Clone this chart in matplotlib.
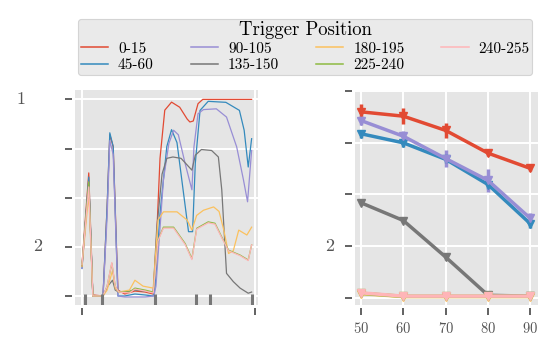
import matplotlib
matplotlib.use("Agg")
import matplotlib.pyplot as plt
import matplotlib.transforms as mtransforms

plt.style.use("ggplot")
plt.rcParams["font.family"] = ["cmr10", "DejaVu Serif"]
plt.rcParams["axes.formatter.use_mathtext"] = True

# series names and colours (ggplot cycle)
labels = ["0-15", "45-60", "90-105", "135-150", "180-195", "225-240", "240-255"]
colors = ["#E24A33", "#348ABD", "#988ED5", "#777777", "#FBC15E", "#8EBA42", "#FFB5B8"]

# left panel: profile over position 0..255
x_red = [0, 10, 16, 31, 37, 41, 46, 53, 63, 78, 93, 105, 110, 115, 122, 132, 144, 155, 159, 164, 171, 178, 250]
y_red = [0.157, 0.626, 0.005, 0.0, 0.45, 0.82, 0.76, 0.03, 0.01, 0.025, 0.02, 0.01, 0.3, 0.7, 0.945, 0.986, 0.96, 0.9, 0.885, 0.89, 0.978, 1.0, 1.0]

x_blue = [0, 10, 16, 31, 37, 41, 46, 53, 63, 78, 93, 105, 108, 115, 125, 132, 140, 149, 157, 163, 167, 174, 186, 212, 232, 239, 245, 250]
y_blue = [0.14, 0.605, 0.0, 0.0, 0.45, 0.83, 0.76, 0.0, 0.0, 0.01, 0.005, 0.0, 0.05, 0.42, 0.76, 0.846, 0.78, 0.54, 0.327, 0.327, 0.675, 0.944, 0.99, 0.985, 0.944, 0.843, 0.656, 0.8]

x_purple = [0, 10, 16, 31, 37, 41, 46, 53, 63, 93, 106, 109, 120, 128, 135, 142, 152, 162, 165, 171, 179, 198, 213, 228, 238, 244, 250]
y_purple = [0.14, 0.58, 0.0, 0.0, 0.4, 0.79, 0.72, 0.0, -0.005, -0.005, 0.0, 0.05, 0.59, 0.775, 0.843, 0.82, 0.674, 0.54, 0.758, 0.927, 0.948, 0.952, 0.91, 0.758, 0.59, 0.479, 0.74]

x_grey = [0, 10, 16, 31, 38, 45, 49, 54, 63, 78, 90, 105, 110, 118, 125, 134, 146, 162, 167, 176, 191, 201, 206, 213, 223, 233, 245, 250]
y_grey = [0.15, 0.58, 0.0, 0.0, 0.05, 0.08, 0.03, 0.02, 0.02, 0.03, 0.025, 0.02, 0.335, 0.62, 0.7, 0.707, 0.7, 0.64, 0.716, 0.745, 0.74, 0.707, 0.54, 0.115, 0.073, 0.04, 0.014, 0.02]

x_orange = [0, 10, 16, 31, 37, 45, 49, 54, 70, 78, 90, 105, 112, 120, 140, 155, 162, 169, 179, 194, 202, 209, 216, 223, 231, 243, 250]
y_orange = [0.15, 0.52, 0.0, 0.0, 0.03, 0.13, 0.04, 0.02, 0.03, 0.08, 0.05, 0.04, 0.386, 0.428, 0.428, 0.386, 0.335, 0.41, 0.436, 0.453, 0.43, 0.335, 0.216, 0.23, 0.335, 0.31, 0.35]

x_green = [0, 10, 16, 31, 37, 44, 49, 54, 70, 78, 93, 105, 112, 120, 135, 152, 162, 169, 186, 196, 206, 216, 233, 245, 250]
y_green = [0.16, 0.58, 0.0, 0.0, 0.05, 0.166, 0.05, 0.02, 0.02, 0.04, 0.03, 0.02, 0.284, 0.35, 0.35, 0.267, 0.19, 0.344, 0.377, 0.37, 0.3, 0.233, 0.208, 0.183, 0.26]

x_pink = [0, 10, 16, 31, 37, 44, 49, 54, 70, 78, 93, 105, 112, 120, 135, 152, 162, 169, 186, 196, 206, 216, 233, 245, 250]
y_pink = [0.16, 0.555, 0.0, 0.0, 0.05, 0.17, 0.05, 0.02, 0.015, 0.035, 0.025, 0.015, 0.28, 0.345, 0.345, 0.262, 0.185, 0.34, 0.372, 0.365, 0.296, 0.23, 0.205, 0.18, 0.26]

# grey marks along the bottom of the left panel
mark_x = [4, 30, 107, 168, 189, 250]

# right panel: percentages with error bars
pct = [50, 60, 70, 80, 90]
r_red = [0.90, 0.879, 0.81, 0.70, 0.626]
e_red = [0.04, 0.04, 0.035, 0.013, 0.013]
r_blue = [0.794, 0.75, 0.67, 0.548, 0.358]
e_blue = [0.02, 0.02, 0.02, 0.02, 0.02]
r_purple = [0.858, 0.782, 0.674, 0.568, 0.384]
e_purple = [0.024, 0.024, 0.04, 0.056, 0.024]
r_grey = [0.46, 0.374, 0.197, 0.012, 0.008]
e_grey = [0.01, 0.01, 0.015, 0.005, 0.003]
r_orange = [0.02, 0.006, 0.006, 0.006, 0.006]
r_green = [0.022, 0.007, 0.007, 0.007, 0.007]
r_pink = [0.024, 0.008, 0.008, 0.008, 0.008]
e_small = [0.005, 0.003, 0.003, 0.003, 0.003]

yticks = [0, 0.25, 0.5, 0.75, 1.0]

fig = plt.figure(figsize=(5.45, 3.4), dpi=100)
ax1 = fig.add_axes([0.1376, 0.1029, 0.3358, 0.632])
ax2 = fig.add_axes([0.6514, 0.1029, 0.3358, 0.632])

left_series = [(x_red, y_red), (x_blue, y_blue), (x_purple, y_purple), (x_grey, y_grey),
               (x_orange, y_orange), (x_green, y_green), (x_pink, y_pink)]
for (xs, ys), c, lab in zip(left_series, colors, labels):
    ax1.plot(xs, ys, color=c, lw=0.9, label=lab)

trans = mtransforms.blended_transform_factory(ax1.transData, ax1.transAxes)
ax1.vlines(mark_x, 0, 0.05, transform=trans, color="#777777", lw=2.2)

ax1.set_xlim(-10.3, 259.4)
ax1.set_ylim(-0.046, 1.047)
ax1.set_xticks([0, 255])
ax1.set_xticklabels(["", ""])
ax1.set_yticks(yticks)
ax1.set_yticklabels([""] * 5)

right_series = [(r_red, e_red), (r_blue, e_blue), (r_purple, e_purple), (r_grey, e_grey),
                (r_orange, e_small), (r_green, e_small), (r_pink, e_small)]
for (ys, es), c in zip(right_series, colors):
    ax2.errorbar(pct, ys, yerr=es, color=c, fmt="-v", lw=2.5, ms=6, elinewidth=2.5, capsize=0)

ax2.set_xlim(48.6, 91.8)
ax2.set_ylim(-0.035, 1.005)
ax2.set_xticks(pct)
ax2.set_yticks(yticks)
ax2.set_yticklabels([""] * 5)

for ax in (ax1, ax2):
    ax.set_facecolor("#E5E5E5")
    ax.grid(True, color="white", lw=1.4)
    for s in ax.spines.values():
        s.set_visible(False)
    ax.spines["left"].set_position(("outward", 2.5))
    ax.spines["bottom"].set_position(("outward", 2.5))
    ax.tick_params(axis="both", direction="out", length=5.3, width=1.3, color="#555555",
                   labelcolor="#555555", labelsize=10.5, pad=4)

# stray labels at the left of each panel
t1 = mtransforms.blended_transform_factory(ax1.transAxes, ax1.transData)
ax1.text(-0.298, 1.0, "1", transform=t1, fontsize=13, color="#555555", ha="center", va="center")
ax1.text(-0.202, 0.25, "2", transform=t1, fontsize=13, color="#555555", ha="center", va="center")
t2 = mtransforms.blended_transform_factory(ax2.transAxes, ax2.transData)
ax2.text(-0.139, 0.25, "2", transform=t2, fontsize=13, color="#555555", ha="center", va="center")

handles, labs = ax1.get_legend_handles_labels()
leg = fig.legend(handles, labs, ncol=4, loc="upper center", bbox_to_anchor=(0.56, 0.968),
                 title="Trigger Position", fontsize=11, title_fontsize=13.5,
                 frameon=True, facecolor="#E5E5E5", edgecolor="#CCCCCC",
                 handlelength=1.8, handletextpad=0.65, columnspacing=2.4,
                 borderpad=0.15, labelspacing=0.2)
leg.get_frame().set_linewidth(0.8)
for line in leg.get_lines():
    line.set_linewidth(1.1)

fig.savefig("out.png", dpi=100)
